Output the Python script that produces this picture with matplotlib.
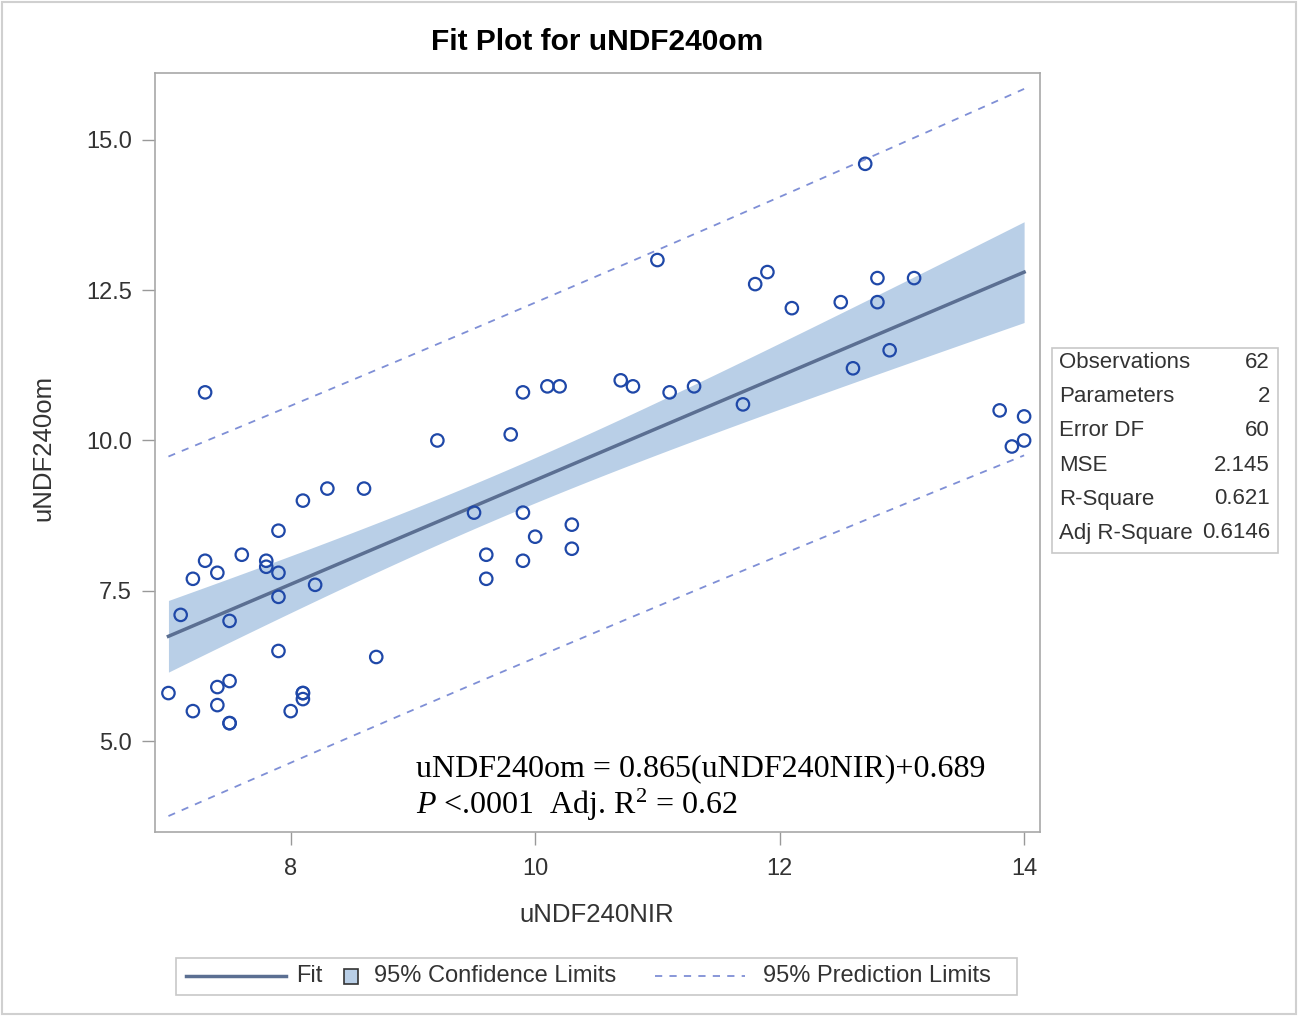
import numpy as np
import matplotlib.pyplot as plt
from matplotlib.lines import Line2D
from matplotlib.patches import Rectangle

# ============================================================
# DADOS
# ============================================================
nir = [7.3, 9.2, 8.3, 8.6, 8.1, 7.9, 7.6, 7.3, 7.2, 7.4,
       7.8, 7.8, 7.9, 8.2, 7.9, 7.1, 7.5, 7.9, 8.7, 7.0,
       7.4, 7.5, 7.2, 7.4, 7.5, 8.0, 8.1, 8.1, 9.9, 10.1,
       10.2, 10.7, 10.8, 11.1, 11.3, 9.8, 9.5, 9.9, 10.3, 10.0,
       10.3, 9.6, 9.9, 9.6, 11.7, 12.7, 11.0, 11.9, 11.8, 12.1,
       12.5, 12.8, 12.8, 13.1, 12.6, 12.9, 13.8, 14.0, 14.0, 13.9,
       7.5, 8.1]
om = [10.8, 10.0, 9.2, 9.2, 9.0, 8.5, 8.1, 8.0, 7.7, 7.8,
      8.0, 7.9, 7.8, 7.6, 7.4, 7.1, 7.0, 6.5, 6.4, 5.8,
      5.9, 6.0, 5.5, 5.6, 5.3, 5.5, 5.8, 5.7, 10.8, 10.9,
      10.9, 11.0, 10.9, 10.8, 10.9, 10.1, 8.8, 8.8, 8.6, 8.4,
      8.2, 8.1, 8.0, 7.7, 10.6, 14.6, 13.0, 12.8, 12.6, 12.2,
      12.3, 12.7, 12.3, 12.7, 11.2, 11.5, 10.5, 10.4, 10.0, 9.9,
      5.3, 5.8]

slope = 0.865
intercept = 0.689
mse = 2.145
t_crit = 2.000

stat_names = ["Observations", "Parameters", "Error DF", "MSE", "R-Square", "Adj R-Square"]
stat_values = ["62", "2", "60", "2.145", "0.621", "0.6146"]

x_ticks = [8, 10, 12, 14]
y_ticks = [5.0, 7.5, 10.0, 12.5, 15.0]

# ============================================================
# LIMITES DE CONFIANÇA / PREDIÇÃO
# ============================================================
x = np.array(nir)
n = len(x)
xbar = x.mean()
sxx = np.sum((x - xbar) ** 2)
xs = np.linspace(x.min(), x.max(), 200)
fit = intercept + slope * xs
se_mean = np.sqrt(mse * (1 / n + (xs - xbar) ** 2 / sxx))
se_pred = np.sqrt(mse * (1 + 1 / n + (xs - xbar) ** 2 / sxx))

# ============================================================
# PLOT
# ============================================================
plt.rcParams['font.family'] = ['Liberation Sans', 'DejaVu Sans']
plt.rcParams['mathtext.fontset'] = 'custom'
plt.rcParams['mathtext.rm'] = 'Liberation Serif'
plt.rcParams['mathtext.it'] = 'Liberation Serif:italic'

fill_c = '#b9cfe7'
fit_c = '#5b6f92'
pred_c = '#7f8fd6'
mark_c = '#1f48a8'
txt_c = '#333333'
edge_c = '#a8a8a8'

fig = plt.figure(figsize=(12.98, 10.16), dpi=100)
ax = fig.add_axes([155 / 1298, 1 - 832 / 1016, 885 / 1298, 759 / 1016])

ax.fill_between(xs, fit - t_crit * se_mean, fit + t_crit * se_mean,
                color=fill_c, lw=0, zorder=1)
ax.plot(xs, fit, color=fit_c, lw=2.5, zorder=2)
ax.plot(xs, fit + t_crit * se_pred, color=pred_c, lw=1.3, ls=(0, (4, 4)), zorder=2)
ax.plot(xs, fit - t_crit * se_pred, color=pred_c, lw=1.3, ls=(0, (4, 4)), zorder=2)
ax.scatter(nir, om, s=80, facecolors='none', edgecolors=mark_c, linewidths=1.6, zorder=3)

ax.set_xlim(6.89, 14.13)
ax.set_ylim(3.49, 16.11)
ax.set_xticks(x_ticks)
ax.set_yticks(y_ticks)
ax.set_yticklabels([f"{v:.1f}" for v in y_ticks])
ax.tick_params(direction='out', length=9.5, width=1, color='#999999',
               labelsize=17, labelcolor=txt_c, pad=7)
ax.tick_params(axis='x', pad=9)
for s in ax.spines.values():
    s.set_color(edge_c)
    s.set_linewidth(1.2)

ax.text(0.295, 0.084, "uNDF240om = 0.865(uNDF240NIR)+0.689", transform=ax.transAxes,
        family='Liberation Serif', fontsize=23, va='center', ha='left')
ax.text(0.295, 0.036, r"$P$ <.0001  Adj. R$^2$ = 0.62", transform=ax.transAxes,
        family='Liberation Serif', fontsize=23, va='center', ha='left')

fig.text(597 / 1298, 1 - 42 / 1016, "Fit Plot for uNDF240om", ha='center', va='center',
         fontsize=21.5, fontweight='bold', color='black')
fig.text(597 / 1298, 1 - 915 / 1016, "uNDF240NIR", ha='center', va='center',
         fontsize=18.5, color=txt_c)
fig.text(43 / 1298, 1 - 448 / 1016, "uNDF240om", ha='center', va='center',
         rotation=90, fontsize=18.5, color=txt_c)

# tabela de estatísticas
fig.patches.append(Rectangle((1052 / 1298, 1 - 553 / 1016), 226 / 1298, 205 / 1016,
                             transform=fig.transFigure, fill=False, ec='#c8c8c8', lw=1.2))
for i, (nm, v) in enumerate(zip(stat_names, stat_values)):
    yy = 1 - (363 + 34 * i) / 1016
    fig.text(1059 / 1298, yy, nm, ha='left', va='center', fontsize=16, color=txt_c)
    fig.text(1270 / 1298, yy, v, ha='right', va='center', fontsize=16, color=txt_c)

# legenda
fig.patches.append(Rectangle((176 / 1298, 1 - 995 / 1016), 841 / 1298, 37 / 1016,
                             transform=fig.transFigure, fill=False, ec='#c8c8c8', lw=1.2))
ly = 1 - 976 / 1016
fig.lines.append(Line2D([186 / 1298, 286 / 1298], [ly, ly], transform=fig.transFigure,
                        color=fit_c, lw=2.5))
fig.text(296 / 1298, ly, "Fit", ha='left', va='center', fontsize=17, color=txt_c)
fig.patches.append(Rectangle((344 / 1298, 1 - 984 / 1016), 14 / 1298, 15 / 1016,
                             transform=fig.transFigure, fc=fill_c, ec='#333333', lw=1.2))
fig.text(374 / 1298, ly, "95% Confidence Limits", ha='left', va='center', fontsize=17, color=txt_c)
fig.lines.append(Line2D([655 / 1298, 745 / 1298], [ly, ly], transform=fig.transFigure,
                        color=pred_c, lw=1.3, ls=(0, (4, 4))))
fig.text(763 / 1298, ly, "95% Prediction Limits", ha='left', va='center', fontsize=17, color=txt_c)

# moldura externa
fig.patches.append(Rectangle((2 / 1298, 2 / 1016), 1294 / 1298, 1012 / 1016,
                             transform=fig.transFigure, fill=False, ec='#d0d0d0', lw=1.5))

fig.savefig("out.png", dpi=100)
plt.close(fig)
